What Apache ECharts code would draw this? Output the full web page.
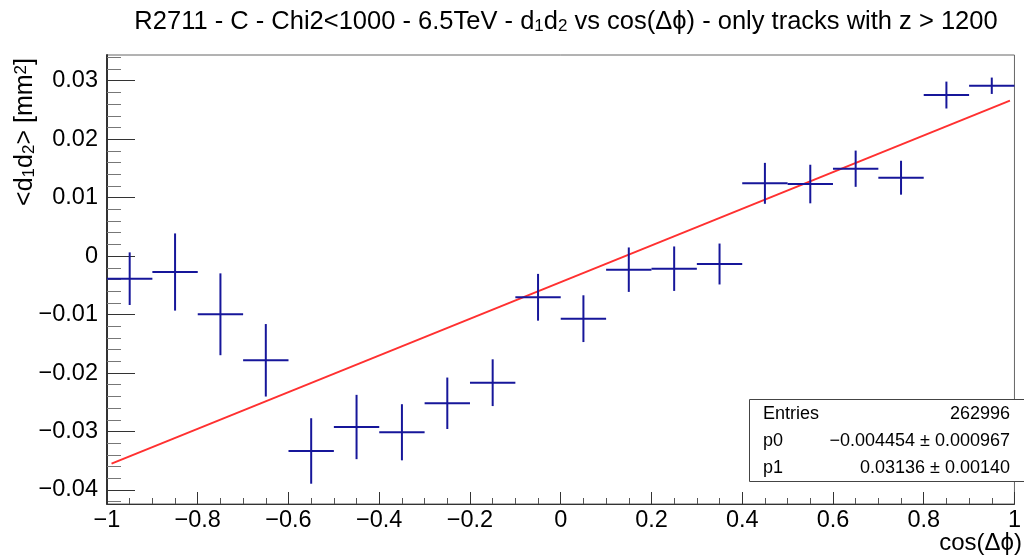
<!DOCTYPE html>
<html>
<head>
<meta charset="utf-8">
<script src="https://cdn.jsdelivr.net/npm/echarts@6/dist/echarts.min.js"></script>
<style>
html,body{margin:0;padding:0;background:#fff;}
#chart{width:1024px;height:556px;}
</style>
</head>
<body>
<div id="chart"></div>
<script>
// ---- data ----
const binCenters = [-0.95,-0.85,-0.75,-0.65,-0.55,-0.45,-0.35,-0.25,-0.15,-0.05,0.05,0.15,0.25,0.35,0.45,0.55,0.65,0.75,0.85,0.95];
const meanD1D2 = [-0.00386,-0.00272,-0.00995,-0.01782,-0.03333,-0.02923,-0.03013,-0.02517,-0.02165,-0.00704,-0.01070,-0.00232,-0.00215,-0.00135,0.01245,0.01233,0.01495,0.01341,0.02755,0.02914];
const meanErrors = [0.0045,0.0066,0.0070,0.0062,0.0056,0.0055,0.0048,0.0044,0.0040,0.0040,0.0040,0.0038,0.0038,0.0035,0.0035,0.0033,0.0031,0.0029,0.0023,0.0014];
const binHalfWidth = 0.05;
const fitX = [-0.99, 0.99];
const fitY = [-0.0355, 0.0266];
const yTickValues = [-0.04,-0.03,-0.02,-0.01,0,0.01,0.02,0.03];
const statsLabels = ['Entries','p0','p1'];
const statsValues = ['262996','\u22120.004454 \u00b1 0.000967','0.03136 \u00b1 0.00140'];

const yMin = -0.0424, yMax = 0.0344;
const yMinorTicks = [];
for (let k = -21; k <= 17; k++) { const v = +(k*0.002).toFixed(3); if (Math.abs(Math.round(v*100) - v*100) > 1e-6) yMinorTicks.push(v); }

const FONT = '"Liberation Sans", Arial, Helvetica, sans-serif';
const BLUE = '#16169a';
const RED = '#ff3030';

const chart = echarts.init(document.getElementById('chart'), null, {renderer:'canvas'});

const fmtY = v => (Math.abs(v) < 1e-9 ? '0' : v.toFixed(2).replace('-', '\u2212'));
const fmtX = v => (Math.abs(v) < 1e-9 ? '0' : String(+v.toFixed(1)).replace('-', '\u2212'));

const subStyleT = {fontSize: 17, fontFamily: FONT, color: '#000', verticalAlign: 'bottom', lineHeight: 12};
const subStyleY = {fontSize: 17, fontFamily: FONT, color: '#000', verticalAlign: 'bottom', lineHeight: 12};
const supStyleY = {fontSize: 17, fontFamily: FONT, color: '#000', verticalAlign: 'top', lineHeight: 12};

const statsGraphics = [];
statsLabels.forEach((lab, i) => {
  const yy = 414 + i * 27;
  statsGraphics.push({type:'text', x: 763, y: yy, z: 101,
    style:{text: lab, font: '18px ' + FONT, fill:'#000', textAlign:'left', textVerticalAlign:'middle'}});
  statsGraphics.push({type:'text', x: 1010, y: yy, z: 101,
    style:{text: statsValues[i], font: '18px ' + FONT, fill:'#000', textAlign:'right', textVerticalAlign:'middle'}});
});

const option = {
  animation: false,
  backgroundColor: '#fff',
  grid: {left: 107, top: 55, width: 918, height: 449, show: true, borderColor: '#666', borderWidth: 1, backgroundColor: 'transparent'},
  xAxis: {
    type: 'value', min: -1, max: 1, interval: 0.2,
    axisLine: {show: true, onZero: false, lineStyle: {color: '#333', width: 1}},
    axisTick: {show: true, inside: true, length: 12, lineStyle: {color: '#333'}},
    minorTick: {show: true, splitNumber: 4, length: 6, lineStyle: {color: '#555'}},
    splitLine: {show: false},
    axisLabel: {formatter: fmtX, fontSize: 23.5, fontFamily: FONT, color: '#000', margin: 5, showMinLabel: true, showMaxLabel: true}
  },
  yAxis: [{
    type: 'value', min: yMin, max: yMax,
    axisLine: {show: true, onZero: false, lineStyle: {color: '#333', width: 2}},
    axisTick: {show: true, inside: true, length: 28, customValues: yTickValues, lineStyle: {color: '#333'}},
    splitLine: {show: false},
    axisLabel: {customValues: yTickValues, formatter: fmtY, fontSize: 23.5, fontFamily: FONT, color: '#000', margin: 9}
  }, {
    type: 'value', min: yMin, max: yMax, position: 'left', offset: 0,
    axisLine: {show: false, onZero: false},
    axisTick: {show: true, inside: true, length: 14, customValues: yMinorTicks, lineStyle: {color: '#777'}},
    splitLine: {show: false},
    axisLabel: {show: false}
  }],
  series: [{
    type: 'line', xAxisIndex: 0, yAxisIndex: 0,
    data: fitX.map((x, i) => [x, fitY[i]]),
    showSymbol: false, symbol: 'none',
    lineStyle: {color: RED, width: 2}, z: 3
  }, {
    type: 'custom', xAxisIndex: 0, yAxisIndex: 0,
    data: binCenters.map((x, i) => [x, meanD1D2[i], meanErrors[i]]),
    encode: {x: 0, y: 1},
    z: 4,
    renderItem: function (params, api) {
      const x = api.value(0), y = api.value(1), e = api.value(2);
      const pl = api.coord([x - binHalfWidth, y]);
      const pr = api.coord([x + binHalfWidth, y]);
      const pt = api.coord([x, y + e]);
      const pb = api.coord([x, y - e]);
      const st = {stroke: BLUE, lineWidth: 2};
      return {type: 'group', children: [
        {type: 'line', shape: {x1: pl[0], y1: pl[1], x2: pr[0], y2: pr[1]}, style: st},
        {type: 'line', shape: {x1: pt[0], y1: pt[1], x2: pb[0], y2: pb[1]}, style: st}
      ]};
    }
  }],
  graphic: [
    {type: 'text', x: 566, y: 22, z: 100,
      style: {text: 'R2711 - C - Chi2<1000 - 6.5TeV - d{s|1}d{s|2} vs cos(\u0394\u03d5) - only tracks with z > 1200',
        font: '25.5px ' + FONT, fill: '#000', textAlign: 'center', textVerticalAlign: 'middle',
        rich: {s: subStyleT}}},
    {type: 'text', x: 25, y: 132, rotation: Math.PI / 2, z: 100,
      style: {text: '<d{s|1}d{s|2}> [mm{p|2}]', font: '25px ' + FONT, fill: '#000',
        textAlign: 'center', textVerticalAlign: 'middle', rich: {s: subStyleY, p: supStyleY}}},
    {type: 'text', x: 1022, y: 543, z: 100,
      style: {text: 'cos(\u0394\u03d5)', font: '24px ' + FONT, fill: '#000', textAlign: 'right', textVerticalAlign: 'middle'}},
    {type: 'rect', shape: {x: 749.5, y: 399.5, width: 300, height: 82}, z: 100,
      style: {fill: '#fff', stroke: '#444', lineWidth: 1}}
  ].concat(statsGraphics)
};
chart.setOption(option);
</script>
</body>
</html>
